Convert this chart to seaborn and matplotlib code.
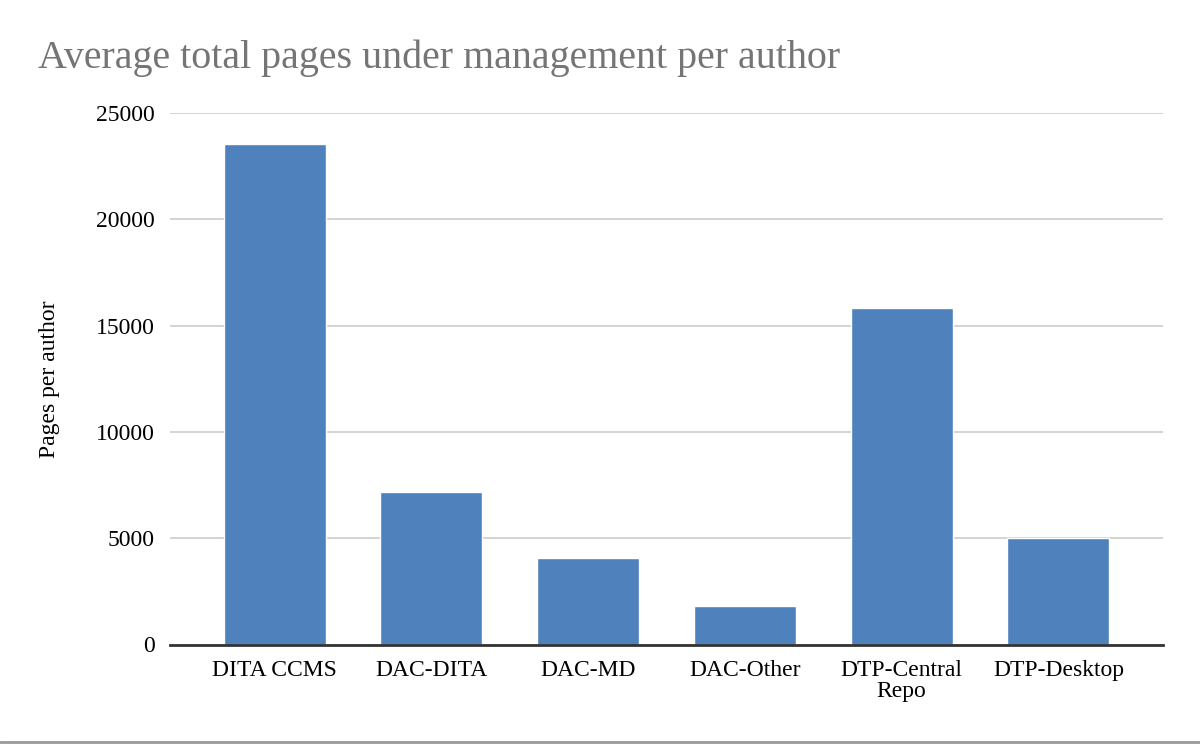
import matplotlib
matplotlib.use("Agg")
import matplotlib.pyplot as plt
import seaborn as sns
import pandas as pd
from matplotlib.lines import Line2D

categories = ["DITA CCMS", "DAC-DITA", "DAC-MD", "DAC-Other", "DTP-Central\nRepo", "DTP-Desktop"]
values = [23550, 7170, 4070, 1810, 15810, 5000]
yticks = [0, 5000, 10000, 15000, 20000, 25000]

sns.set_theme(style="white")
plt.rcParams['font.family'] = ['Liberation Serif', 'DejaVu Serif']

df = pd.DataFrame({"category": categories, "value": values})

fig = plt.figure(figsize=(12, 7.44), dpi=100)
ax = fig.add_axes([170/1200, 1 - 644.5/744, (1163-170)/1200, (644.5-113)/744])

sns.barplot(data=df, x="category", y="value", color="#4F81BD", saturation=1,
            width=0.65, ax=ax, zorder=3)

ax.set_xlim(-0.667, 5.667)
ax.set_ylim(0, 25000)
ax.set_yticks(yticks)
ax.set_yticklabels([str(v) for v in yticks], fontsize=17, color="black")
ax.tick_params(axis='x', labelsize=17, colors="black", length=0, pad=11)
ax.tick_params(axis='y', length=0, pad=11)
for lbl in ax.get_xticklabels():
    lbl.set_linespacing(1.0)
ax.grid(axis='y', color="#cccccc", linewidth=1.2, zorder=0)
ax.set_axisbelow(True)
for s in ["top", "right", "left"]:
    ax.spines[s].set_visible(False)
ax.spines["bottom"].set_color("#333333")
ax.spines["bottom"].set_linewidth(2)
ax.spines["bottom"].set_zorder(5)
ax.set_xlabel("")
ax.set_ylabel("Pages per author", fontsize=17, color="black", labelpad=26)

fig.text(38/1200, 1 - 58/744, "Average total pages under management per author",
         fontsize=28.8, color="#757575", ha="left", va="center")

fig.add_artist(Line2D([0, 1], [1 - 742/744, 1 - 742/744], transform=fig.transFigure,
                      color="#999999", linewidth=2))

fig.savefig("out.png", dpi=100, facecolor="white")
